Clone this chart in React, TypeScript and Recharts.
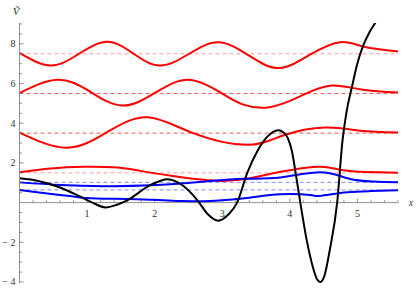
import {
  LineChart,
  Line,
  XAxis,
  YAxis,
  ReferenceLine,
  ReferenceDot,
} from "recharts";

// eigenstates drawn on top of the potential, offset by their energies
const levels = [7.5, 5.5, 3.5, 1.5];
const blueLevels = [1.02, 0.64];

const red1X = [0, 0.46, 0.88, 1.3, 1.69, 2.08, 2.51, 2.94, 3.385, 3.83, 4.285, 4.74, 5.1, 5.6];
const red1Y = [7.54, 6.91, 7.5, 8.1, 7.5, 6.91, 7.5, 8.08, 7.43, 6.78, 7.43, 8.08, 7.85, 7.62];

const red2X = [0, 0.56, 1.04, 1.52, 2.01, 2.5, 2.97, 3.3, 3.7, 4.15, 4.59, 5.08, 5.6];
const red2Y = [5.52, 6.19, 5.6, 4.89, 5.54, 6.19, 5.55, 4.95, 4.81, 5.35, 5.89, 5.69, 5.55];

const red3X = [0, 0.71, 1.32, 1.9, 2.57, 3.37, 3.9, 4.52, 5.04, 5.6];
const red3Y = [3.53, 2.77, 3.6, 4.3, 3.5, 2.91, 3.38, 3.78, 3.62, 3.53];

const red4X = [0, 0.46, 0.95, 1.45, 1.79, 2.27, 2.92, 3.41, 3.86, 4.45, 4.85, 5.6];
const red4Y = [1.53, 1.72, 1.81, 1.77, 1.6, 1.34, 1.1, 1.23, 1.55, 1.81, 1.6, 1.51];

const blue1X = [0, 0.61, 1.24, 1.94, 2.7, 3.3, 3.86, 4.45, 4.85, 5.23, 5.6];
const blue1Y = [1.02, 0.89, 0.83, 0.87, 1.05, 1.2, 1.27, 1.53, 1.23, 1.06, 1.02];

const blue2X = [0, 0.2, 0.6, 0.93, 1.24, 1.94, 2.4, 2.9, 3.4, 3.86, 4.3, 4.45, 4.85, 5.2, 5.6];
const blue2Y = [0.64, 0.55, 0.38, 0.25, 0.2, 0.15, 0.08, 0.1, 0.25, 0.42, 0.38, 0.34, 0.52, 0.58, 0.62];

const potX = [
  0, 0.21, 0.38, 0.61, 0.9, 1.08, 1.27, 1.43, 1.6, 1.94, 2.19, 2.42, 2.63, 2.79, 2.94, 3.09, 3.22,
  3.37, 3.52, 3.66, 3.83, 3.9, 3.97, 4.03, 4.09, 4.15, 4.25, 4.34, 4.4, 4.45, 4.51, 4.59, 4.7, 4.78,
  4.84, 4.92, 4.99, 5.08, 5.18, 5.27, 5.41,
];
const potY = [
  1.23, 1.14, 1.0, 0.75, 0.3, 0.0, -0.24, -0.12, 0.13, 0.89, 1.18, 0.85, 0.13, -0.6, -0.91, -0.6, 0.0,
  1.5, 2.6, 3.3, 3.65, 3.55, 3.25, 2.6, 1.4, 0.1, -1.9, -3.24, -3.85, -4.0, -3.7, -2.4, 0.0, 3.16,
  4.6, 5.85, 6.9, 7.87, 8.6, 9.1, 10.2,
];

const xLabels = [1, 2, 3, 4, 5];

const xTicks = Array.from({ length: 28 }, (_, i) => +((i + 1) * 0.2).toFixed(1));
const yTicks = Array.from({ length: 27 }, (_, i) => -4 + i * 0.5).filter((v) => v !== 0);

const pts = (xs: number[], ys: number[]) => xs.map((x, i) => ({ x, y: ys[i] }));

const AXIS = "#777";
const FONT = "'Liberation Serif', 'Times New Roman', serif";

const fmt = (v: number) => (v < 0 ? `\u2212 ${-v}` : `${v}`);

function YTick(props: any) {
  const { x, y, payload } = props;
  const v = payload.value as number;
  const major = Number.isInteger(v / 2);
  return (
    <g>
      <line x1={x} x2={x + (major ? 4 : 2.5)} y1={y} y2={y} stroke={AXIS} strokeWidth={0.8} />
      {major && (
        <text x={x - 4} y={y} dy={3.4} textAnchor="end" fontSize={10} fontFamily={FONT} fill="#333">
          {fmt(v)}
        </text>
      )}
    </g>
  );
}

const textAt =
  (txt: string, dx: number, dy: number, size: number, italic: boolean) =>
  ({ viewBox }: any) =>
    (
      <text
        x={viewBox.x + dx}
        y={viewBox.y + dy}
        textAnchor="middle"
        fontSize={size}
        fontStyle={italic ? "italic" : "normal"}
        fontFamily={FONT}
        fill="#333"
      >
        {txt}
      </text>
    );

export default function App() {
  return (
    <div style={{ width: 417, height: 288 }}>
      <style>{"body{margin:0}"}</style>
      <LineChart width={417} height={288} margin={{ top: 23, right: 19, bottom: 5, left: 0 }}>
        <XAxis type="number" dataKey="x" domain={[0, 5.6]} hide allowDataOverflow />
        <YAxis
          type="number"
          dataKey="y"
          domain={[-4.05, 9.05]}
          allowDataOverflow
          width={19.5}
          ticks={yTicks}
          interval={0}
          tickSize={0}
          tickMargin={0}
          tickLine={false}
          axisLine={{ stroke: AXIS, strokeWidth: 0.8 }}
          tick={<YTick />}
        />
        <ReferenceLine y={0} stroke={AXIS} strokeWidth={0.8} />
        {xTicks.map((t) => (
          <ReferenceLine
            key={`xt${t}`}
            segment={[
              { x: t, y: 0 },
              { x: t, y: Number.isInteger(t) ? 0.2 : 0.12 },
            ]}
            stroke={AXIS}
            strokeWidth={0.8}
          />
        ))}
        {xLabels.map((t) => (
          <ReferenceDot key={`xl${t}`} x={t} y={0} r={0} stroke="none" label={{ content: textAt(String(t), 0, 14, 10, false) }} />
        ))}
        <ReferenceDot x={0} y={9.05} r={0} stroke="none" label={{ content: textAt("Ṽ", -3.5, -8, 11, true) }} />
        <ReferenceDot x={5.6} y={0} r={0} stroke="none" label={{ content: textAt("x", 13, 3, 10, true) }} />
        {levels.map((lv, i) => (
          <ReferenceLine
            key={`lv${lv}`}
            y={lv}
            stroke={i === 0 || i === 3 ? "#ff9c9c" : "#f05a5a"}
            strokeDasharray="4 3"
            strokeWidth={1}
          />
        ))}
        {blueLevels.map((lv) => (
          <ReferenceLine key={`bl${lv}`} y={lv} stroke="#8a8aff" strokeDasharray="4 3" strokeWidth={1} />
        ))}
        <Line data={pts(red1X, red1Y)} dataKey="y" type="natural" stroke="#ff0000" strokeWidth={2} dot={false} isAnimationActive={false} />
        <Line data={pts(red2X, red2Y)} dataKey="y" type="natural" stroke="#ff0000" strokeWidth={2} dot={false} isAnimationActive={false} />
        <Line data={pts(red3X, red3Y)} dataKey="y" type="natural" stroke="#ff0000" strokeWidth={2} dot={false} isAnimationActive={false} />
        <Line data={pts(red4X, red4Y)} dataKey="y" type="natural" stroke="#ff0000" strokeWidth={2} dot={false} isAnimationActive={false} />
        <Line data={pts(blue1X, blue1Y)} dataKey="y" type="natural" stroke="#0000ff" strokeWidth={2} dot={false} isAnimationActive={false} />
        <Line data={pts(blue2X, blue2Y)} dataKey="y" type="natural" stroke="#0000ff" strokeWidth={2} dot={false} isAnimationActive={false} />
        <Line data={pts(potX, potY)} dataKey="y" type="monotone" stroke="#000000" strokeWidth={2} dot={false} isAnimationActive={false} />
      </LineChart>
    </div>
  );
}
